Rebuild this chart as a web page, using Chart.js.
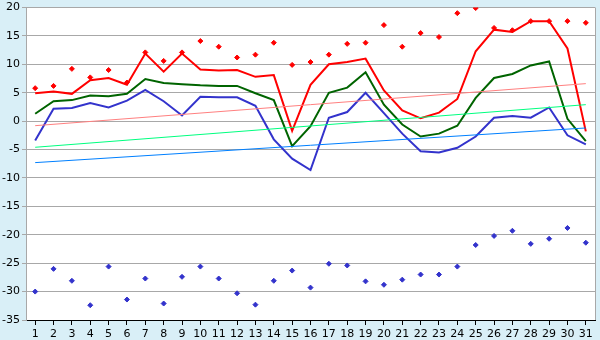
<!DOCTYPE html>
<html>
<head>
<meta charset="utf-8">
<script src="https://cdn.jsdelivr.net/npm/chart.js@4"></script>
<style>
html,body{margin:0;padding:0;background:#d9eff7;}
#wrap{width:600px;height:340px;}
</style>
</head>
<body>
<div id="wrap"><canvas id="c" width="600" height="340"></canvas></div>
<script>
const days = ['1','2','3','4','5','6','7','8','9','10','11','12','13','14','15','16','17','18','19','20','21','22','23','24','25','26','27','28','29','30','31'];
const maxTemp = [4.9,5.2,4.8,7.2,7.6,6.4,11.9,8.7,11.9,9.1,8.9,9.0,7.8,8.1,-1.7,6.4,10.0,10.4,11.0,5.4,1.9,0.5,1.5,3.9,12.3,16.1,15.7,17.6,17.6,12.8,-1.8];
const meanTemp = [1.3,3.5,3.7,4.5,4.4,4.8,7.4,6.7,6.5,6.3,6.2,6.2,4.9,3.7,-4.4,-0.9,5.0,5.9,8.6,2.9,-0.6,-2.7,-2.2,-0.8,4.1,7.6,8.3,9.8,10.5,0.4,-3.5];
const minTemp = [-3.4,2.2,2.3,3.2,2.4,3.6,5.5,3.5,1.0,4.3,4.2,4.2,2.7,-3.2,-6.6,-8.6,0.6,1.6,5.0,1.4,-2.2,-5.3,-5.5,-4.7,-2.7,0.6,0.9,0.6,2.4,-2.5,-4.1];
const recordHigh = [5.8,6.2,9.2,7.7,9.0,6.8,12.1,10.6,12.1,14.1,13.1,11.2,11.7,13.8,9.9,10.4,11.7,13.6,13.8,16.9,13.1,15.5,14.8,19.0,19.9,16.4,16.0,17.6,17.6,17.6,17.3];
const recordLow = [-30.0,-26.0,-28.1,-32.4,-25.6,-31.4,-27.7,-32.1,-27.4,-25.6,-27.7,-30.3,-32.3,-28.1,-26.3,-29.3,-25.1,-25.4,-28.2,-28.8,-27.9,-27.0,-27.0,-25.6,-21.8,-20.2,-19.3,-21.6,-20.7,-18.8,-21.4];
// trend lines: only end values, gaps spanned
const trendMax = [-0.8,null,null,null,null,null,null,null,null,null,null,null,null,null,null,null,null,null,null,null,null,null,null,null,null,null,null,null,null,null,6.6];
const trendMean = [-4.6,null,null,null,null,null,null,null,null,null,null,null,null,null,null,null,null,null,null,null,null,null,null,null,null,null,null,null,null,null,2.9];
const trendMin = [-7.3,null,null,null,null,null,null,null,null,null,null,null,null,null,null,null,null,null,null,null,null,null,null,null,null,null,null,null,null,null,-1.2];
const yTicks = [20,15,10,5,0,-5,-10,-15,-20,-25,-30,-35];

const bgPlugin = {
  id:'bg',
  beforeDraw(chart){
    const {ctx, chartArea:a} = chart;
    ctx.save();
    ctx.fillStyle = '#d9eff7';
    ctx.fillRect(0,0,chart.width,chart.height);
    ctx.fillStyle = '#ffffff';
    ctx.fillRect(a.left,a.top,a.right-a.left,a.bottom-a.top);
    ctx.restore();
  },
  afterDraw(chart){
    const {ctx, chartArea:a} = chart;
    ctx.save();
    ctx.strokeStyle = '#a8a8a8';
    ctx.lineWidth = 1;
    ctx.beginPath();
    ctx.moveTo(Math.round(a.right)+0.5, a.top);
    ctx.lineTo(Math.round(a.right)+0.5, a.bottom);
    ctx.stroke();
    ctx.restore();
  }
};

function line(data,color,w){
  return {type:'line',data:data,borderColor:color,backgroundColor:color,borderWidth:w,pointRadius:0,pointHoverRadius:0,fill:false,tension:0,spanGaps:true};
}
function pts(data,color){
  return {type:'line',data:data,showLine:false,borderColor:color,backgroundColor:color,pointStyle:'rectRot',pointRadius:2.5,pointBorderWidth:1};
}

Chart.defaults.font.family = '"DejaVu Sans", Verdana, sans-serif';
Chart.defaults.font.size = 11;
Chart.defaults.color = '#000';

new Chart(document.getElementById('c'),{
  type:'line',
  data:{
    labels:days,
    datasets:[
      line(trendMin,'#0080ff',1),
      line(trendMean,'#00ff80',1),
      line(trendMax,'#ff8080',1),
      line(minTemp,'#3333cc',2),
      line(meanTemp,'#006400',2),
      line(maxTemp,'#ff0000',2),
      pts(recordHigh,'#ff0000'),
      pts(recordLow,'#3333cc')
    ]
  },
  options:{
    responsive:false,
    animation:false,
    events:[],
    layout:{padding:{top:5,right:5,left:0,bottom:0}},
    plugins:{legend:{display:false},tooltip:{enabled:false}},
    scales:{
      x:{
        type:'category',
        offset:true,
        grid:{offset:false,drawOnChartArea:false,drawTicks:true,tickLength:5,color:'#000'},
        border:{color:'#000'},
        ticks:{padding:3,maxRotation:0,autoSkip:false,color:'#000'},
        afterFit(s){s.height=20;}
      },
      y:{
        min:-35,max:20,
        afterBuildTicks(s){s.ticks = yTicks.map(v=>({value:v}));},
        grid:{color:'#a8a8a8',tickLength:4,drawTicks:true},
        border:{color:'#a8a8a8'},
        ticks:{padding:2,color:'#000',font:{lineHeight:1}},
        afterFit(s){s.width=26;}
      }
    }
  },
  plugins:[bgPlugin]
});
</script>
</body>
</html>
